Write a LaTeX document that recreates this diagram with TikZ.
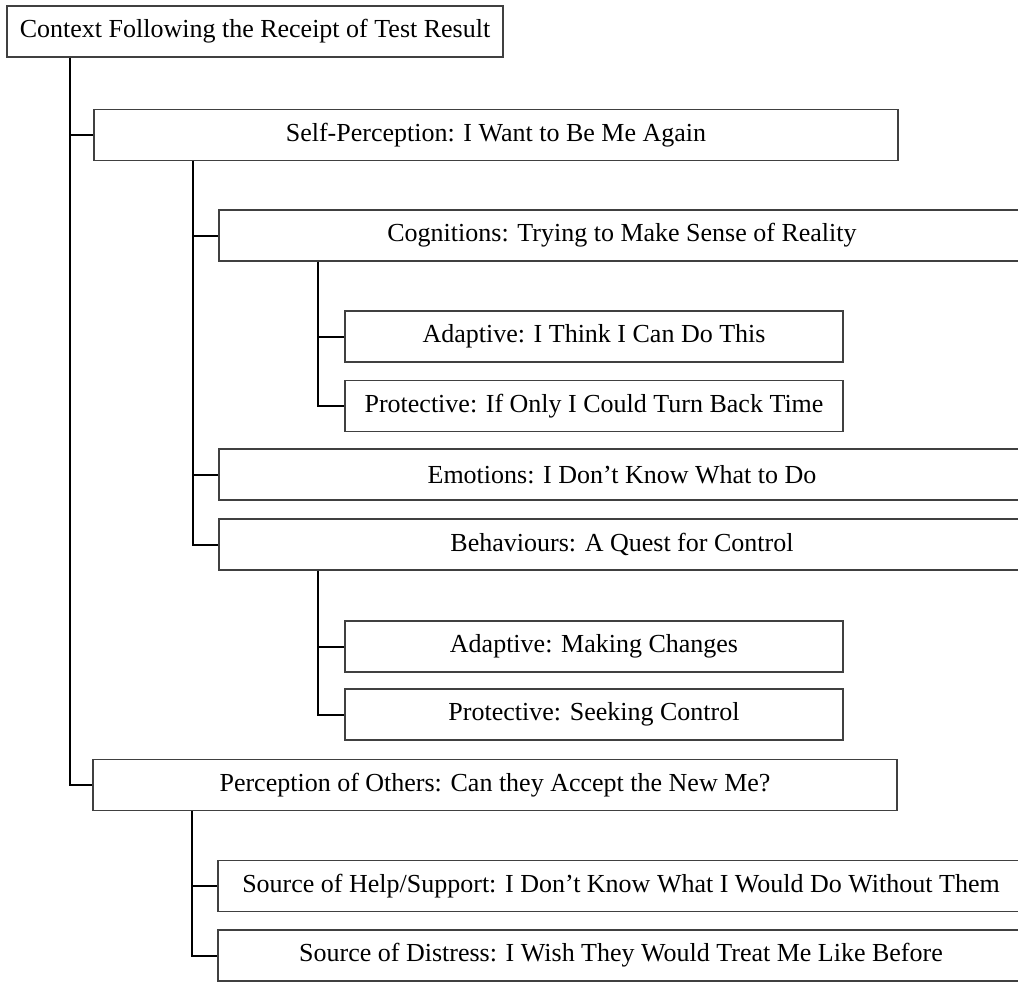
\documentclass[tikz,border=0pt]{standalone}
\usepackage{fontspec}
\setmainfont{Liberation Serif}
\usetikzlibrary{positioning}

\begin{document}
\begin{tikzpicture}[x=1pt,y=-1pt,
        box/.style={draw=black!75,line width=1.1pt,minimum height=51pt,inner sep=0pt,
            font=\fontsize{26}{30}\selectfont},
        rootbox/.style={box,minimum width=496pt},
        levelone/.style={box,minimum width=804pt},
        leveltwo/.style={box,minimum width=806pt},
        levelthree/.style={box,minimum width=498pt},
        link/.style={black,line width=2pt}]
        \path[use as bounding box,clip] (0,0) rectangle (1018,982);
        \node[rootbox] (root) at (255,31.5) {Context Following the Receipt of Test Result};
        \node[levelone] (self) at (496,135) {Self-Perception: I Want to Be Me Again};
        \node[leveltwo] (cogn) at (622,235.5) {Cognitions: Trying to Make Sense of Reality};
        \node[levelthree] (cognada) at (594,336.5) {Adaptive: I Think I Can Do This};
        \node[levelthree] (cognpro) at (594,406) {Protective: If Only I Could Turn Back Time};
        \node[leveltwo] (emot) at (622,474.5) {Emotions: I Don't Know What to Do};
        \node[leveltwo] (behav) at (622,544.5) {Behaviours: A Quest for Control};
        \node[levelthree] (behavada) at (594,646.5) {Adaptive: Making Changes};
        \node[levelthree] (behavpro) at (594,714.5) {Protective: Seeking Control};
        \node[levelone] (others) at (495,785) {Perception of Others: Can they Accept the New Me?};
        \node[leveltwo] (help) at (621,886) {Source of Help/Support: I Don't Know What I Would Do Without Them};
        \node[leveltwo] (distress) at (621,955.5) {Source of Distress: I Wish They Would Treat Me Like Before};

        \draw[link] ([xshift=64pt]root.south west) |- (self.west);
        \draw[link] ([xshift=64pt]root.south west) |- (others.west);
        \draw[link] ([xshift=100pt]self.south west) |- (cogn.west);
        \draw[link] ([xshift=100pt]self.south west) |- (emot.west);
        \draw[link] ([xshift=100pt]self.south west) |- (behav.west);
        \draw[link] ([xshift=100pt]cogn.south west) |- (cognada.west);
        \draw[link] ([xshift=100pt]cogn.south west) |- (cognpro.west);
        \draw[link] ([xshift=100pt]behav.south west) |- (behavada.west);
        \draw[link] ([xshift=100pt]behav.south west) |- (behavpro.west);
        \draw[link] ([xshift=100pt]others.south west) |- (help.west);
        \draw[link] ([xshift=100pt]others.south west) |- (distress.west);
    \end{tikzpicture}
\end{document}
